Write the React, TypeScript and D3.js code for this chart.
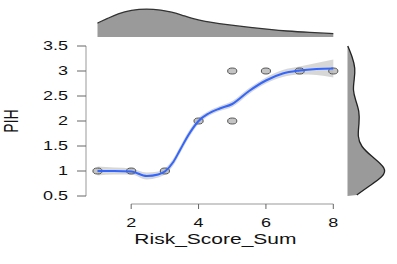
import React, { useEffect, useRef } from 'react';
import * as d3 from 'd3';

// observed points
const riskScore = [1, 2, 3, 4, 5, 5, 6, 7, 8];
const pih = [1, 1, 1, 2, 2, 3, 3, 3, 3];

// loess fit
const fitX = [1, 1.5, 2, 2.46, 2.8, 3, 3.25, 3.45, 3.7, 4, 4.3, 4.63, 5, 5.5, 6, 6.5, 7, 7.5, 8];
const fitY = [1, 1, 0.99, 0.9, 0.93, 0.99, 1.18, 1.42, 1.72, 2.0, 2.15, 2.25, 2.34, 2.6, 2.81, 2.95, 3.01, 3.04, 3.05];
const fitSe = [0.09, 0.07, 0.06, 0.07, 0.06, 0.06, 0.07, 0.07, 0.07, 0.06, 0.05, 0.05, 0.06, 0.06, 0.06, 0.07, 0.08, 0.12, 0.18];

// marginal density of Risk_Score_Sum (top)
const topDensX = [1, 1.3, 1.6, 2, 2.46, 2.9, 3.2, 3.5, 3.8, 4.2, 4.6, 5.1, 5.6, 6.1, 6.6, 7.3, 8];
const topDens = [0.147, 0.195, 0.246, 0.284, 0.299, 0.284, 0.263, 0.232, 0.194, 0.163, 0.141, 0.118, 0.099, 0.08, 0.063, 0.048, 0.036];

// marginal density of PIH (right)
const rightDensY = [3.5, 3.29, 3.05, 2.82, 2.62, 2.42, 2.19, 1.95, 1.69, 1.49, 1.29, 1.05, 0.89, 0.69, 0.52];
const rightDens = [0.003, 0.047, 0.08, 0.067, 0.053, 0.08, 0.12, 0.117, 0.1, 0.133, 0.243, 0.393, 0.36, 0.21, 0.093];

const xTicks = [2, 4, 6, 8];
const yTicks = [0.5, 1, 1.5, 2, 2.5, 3, 3.5];
const yTickLabels = ['0.5', '1', '1.5', '2', '2.5', '3', '3.5'];

const W = 397;
const H = 264;
const SX = 1.5; // picture is stretched sideways

const App = () => {
    const ref = useRef<SVGSVGElement>(null);

    useEffect(() => {
        const svg = d3.select(ref.current);
        svg.selectAll('*').remove();

        const x = d3.scaleLinear().domain([1, 8]).range([97.5, 333.3]);
        const y = d3.scaleLinear().domain([0.5, 3.5]).range([196, 46]);
        const font = 'Liberation Sans, Arial, sans-serif';

        // top density
        const topBase = 37;
        const hTop = d3.scaleLinear().domain([0, 0.3]).range([0, 28.5]);
        const topPts = topDensX.map((v, i) => [x(v), topBase - hTop(topDens[i])] as [number, number]);
        const curve = d3.line().curve(d3.curveBasis);
        svg.append('path')
            .attr('d', `M${x(1)},${topBase}` + curve(topPts)!.replace(/^M/, 'L') + `L${x(8)},${topBase}Z`)
            .attr('fill', '#9a9a9a');
        svg.append('path')
            .attr('d', curve(topPts))
            .attr('fill', 'none')
            .attr('stroke', '#333')
            .attr('stroke-width', 1.3);

        // right density
        const rightBase = 347.5;
        const wRight = d3.scaleLinear().domain([0, 0.4]).range([0, 40]);
        const rightPts = rightDensY.map((v, i) => [rightBase + wRight(rightDens[i]), y(v)] as [number, number]);
        svg.append('path')
            .attr('d', `M${rightBase},${y(3.5)}` + curve(rightPts)!.replace(/^M/, 'L') + `L${rightBase},${y(0.5)}Z`)
            .attr('fill', '#9a9a9a');
        svg.append('path')
            .attr('d', curve(rightPts))
            .attr('fill', 'none')
            .attr('stroke', '#222')
            .attr('stroke-width', 1.3);

        // axes
        const axisCol = '#999';
        svg.append('line')
            .attr('x1', 86).attr('x2', 86)
            .attr('y1', y(0.5)).attr('y2', y(3.5))
            .attr('stroke', axisCol);
        yTicks.forEach((t, i) => {
            svg.append('line')
                .attr('x1', 77).attr('x2', 86)
                .attr('y1', y(t)).attr('y2', y(t))
                .attr('stroke', '#666');
            svg.append('text')
                .attr('transform', `translate(68,${y(t)}) scale(${SX},1)`)
                .attr('text-anchor', 'end')
                .attr('dy', '0.36em')
                .attr('font-family', font)
                .attr('font-size', 12)
                .attr('fill', '#111')
                .text(yTickLabels[i]);
        });

        const axisY = 204;
        svg.append('line')
            .attr('x1', x(2)).attr('x2', x(8))
            .attr('y1', axisY).attr('y2', axisY)
            .attr('stroke', axisCol);
        xTicks.forEach(t => {
            svg.append('line')
                .attr('x1', x(t)).attr('x2', x(t))
                .attr('y1', axisY).attr('y2', axisY + 5)
                .attr('stroke', '#666');
            svg.append('text')
                .attr('transform', `translate(${x(t)},226.5) scale(${SX},1)`)
                .attr('text-anchor', 'middle')
                .attr('font-family', font)
                .attr('font-size', 12)
                .attr('fill', '#111')
                .text(String(t));
        });

        svg.append('text')
            .attr('transform', `translate(${(x(1) + x(8)) / 2},243.5) scale(${SX},1)`)
            .attr('text-anchor', 'middle')
            .attr('font-family', font)
            .attr('font-size', 14)
            .attr('fill', '#111')
            .text('Risk_Score_Sum');

        svg.append('text')
            .attr('transform', `translate(18,121) scale(${SX},1) rotate(-90)`)
            .attr('text-anchor', 'middle')
            .attr('font-family', font)
            .attr('font-size', 14)
            .attr('fill', '#111')
            .text('PIH');

        // confidence band
        const band = d3.area<number>()
            .x((_, i) => x(fitX[i]))
            .y0((d, i) => y(d - fitSe[i]))
            .y1((d, i) => y(d + fitSe[i]))
            .curve(d3.curveMonotoneX);
        svg.append('path')
            .attr('d', band(fitY))
            .attr('fill', '#bdbdbd')
            .attr('opacity', 0.6);

        // points
        svg.selectAll('.pt')
            .data(riskScore)
            .enter()
            .append('ellipse')
            .attr('class', 'pt')
            .attr('cx', d => x(d))
            .attr('cy', (_, i) => y(pih[i]))
            .attr('rx', 4.6)
            .attr('ry', 3)
            .attr('fill', '#b5b5b5')
            .attr('fill-opacity', 0.8)
            .attr('stroke', '#555')
            .attr('stroke-width', 1);

        // loess line
        const fitLine = d3.line<number>()
            .x((_, i) => x(fitX[i]))
            .y(d => y(d))
            .curve(d3.curveMonotoneX);
        svg.append('path')
            .attr('d', fitLine(fitY))
            .attr('fill', 'none')
            .attr('stroke', '#3366FF')
            .attr('stroke-width', 2);
    }, []);

    return (
        <svg ref={ref} width={W} height={H}
            style={{ position: 'absolute', left: 0, top: 0, background: '#fff' }} />
    );
};

export default App;
